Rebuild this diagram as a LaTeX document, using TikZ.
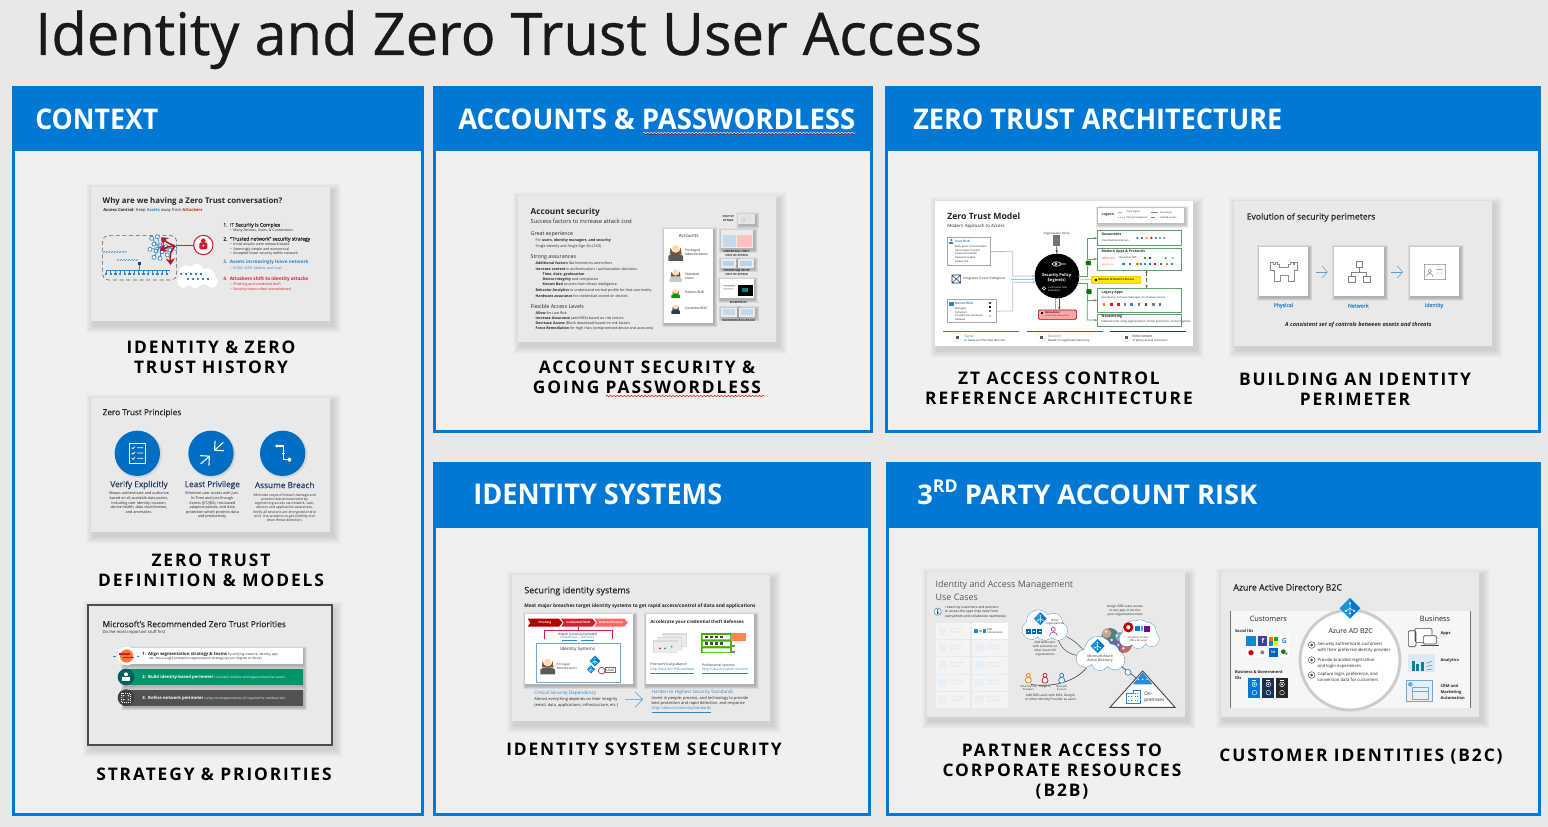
\documentclass[tikz,border=0pt]{standalone}
\usepackage{fontspec}
\usepackage{graphicx}
\setmainfont{Open Sans}
\newfontfamily\capf[LetterSpace=11]{Open Sans}
\newfontfamily\ttlf[FakeBold=.55]{Open Sans}
\newfontfamily\medf[FakeBold=.35]{Open Sans}
\usetikzlibrary{decorations.pathmorphing,arrows.meta,calc}
\definecolor{msblue}{HTML}{0078D4}
\definecolor{pagebg}{HTML}{E8E8E8}
\definecolor{panelbg}{HTML}{F0F0F0}
\definecolor{slidebg}{HTML}{E9E9E9}
\definecolor{ink}{HTML}{262626}
\definecolor{mid}{HTML}{595959}
\definecolor{lblue}{HTML}{2E86C9}
\definecolor{navyt}{HTML}{1F3D66}
\definecolor{redt}{HTML}{D02030}
\definecolor{grnb}{HTML}{5F9F6E}
\definecolor{lineb}{HTML}{9CC3E0}
\tikzset{
 txt/.style={inner sep=0pt,outer sep=0pt,anchor=west,align=left,text=ink},
 ctr/.style={anchor=center,align=center},
 zz/.style={x=.25pt,y=-.25pt},
 captxt/.style={inner sep=0pt,anchor=center,align=center,text=black,font=\fontsize{13}{15}\selectfont\capf\bfseries},
 headtxt/.style={inner sep=0pt,anchor=base west,text=white},
 squig/.style={red!80!black,line width=.35pt,decorate,decoration={snake,amplitude=.45pt,segment length=2.6pt}},
 gr/.style={draw=grnb,line width=.5pt,fill=white},
}
\newcounter{tn}
\def\lf{1.25}
\newcommand\T[4][]{\stepcounter{tn}\node[txt,font=\fontsize{#3}{\fpeval{#3*\lf}}\selectfont,#1] (t\arabic{tn}) at (#2) {#4};}
\newcommand\Shad[6]{\foreach \i in {8,...,1}{\fill[black,opacity=#6] ({#1-\i*#5+3*#5},{#2-\i*#5+4*#5}) rectangle ({#3+\i*#5+3*#5},{#4+\i*#5+4*#5});}}
\newcommand\Sld[5]{\Shad{#1}{#2}{#3}{#4}{1}{.016}\fill[#5] (#1,#2) rectangle (#3,#4);}
\newcommand\Card[5]{\Shad{#1}{#2}{#3}{#4}{1.2}{.03}\fill[#5] (#1,#2) rectangle (#3,#4);}
\newcommand\Panel[5]{\fill[panelbg] (#1,#2) rectangle (#3,#4);\fill[msblue] (#1,#2) rectangle (#3,#5);\draw[msblue,line width=2.6pt] (#1+1.7,#2+1.7) rectangle (#3-1.7,#4-1.7);}
\newcommand\Hd[4]{\stepcounter{tn}\node[headtxt] (h\arabic{tn}) at (#1,#2) {\resizebox{\fpeval{(#3-#1)*.75}pt}{#4}{\fontsize{20}{24}\selectfont\bfseries\capfree}};}
\newcommand\capfree{}
\newcommand\Sq[4]{\fill[#4] ({#1-#3/2},{#2-#3/2}) rectangle ({#1+#3/2},{#2+#3/2});}
\newcommand\Person[5]{%
 \fill[#5] ({#1-#3*.72},{#2-#3*.45}) arc (180:0:{#3*.72} and {#3*.75}) -- ({#1+#3*.85},{#2+#3*.45}) -- ({#1-#3*.85},{#2+#3*.45}) -- cycle;
 \fill[#4] ({#1-#3*1.05},{#2+#3*1.45}) -- ({#1-#3*1.05},{#2+#3*.75}) .. controls ({#1-#3*.8},{#2+#3*.3}) and ({#1+#3*.8},{#2+#3*.3}) .. ({#1+#3*1.05},{#2+#3*.75}) -- ({#1+#3*1.05},{#2+#3*1.45}) -- cycle;
 \fill[orange!30!white] (#1,{#2-#3*.3}) circle ({#3*.5});
}
\newcommand\AAD[3]{%
 \fill[msblue] (#1,{#2-#3}) -- ({#1+#3},#2) -- (#1,{#2+#3}) -- ({#1-#3},#2) -- cycle;
 \fill[cyan!60!msblue] (#1,{#2-#3}) -- ({#1-#3},#2) -- (#1,{#2+#3}) -- cycle;
 \draw[white,line width=.35pt] (#1,{#2-#3*.5}) -- (#1,{#2+#3*.5}) ({#1-#3*.4},{#2+#3*.25}) -- (#1,#2) -- ({#1+#3*.4},{#2+#3*.25});
 \fill[white] (#1,{#2-#3*.5}) circle ({#3*.1}) ({#1-#3*.4},{#2+#3*.25}) circle ({#3*.1}) ({#1+#3*.4},{#2+#3*.25}) circle ({#3*.1}) (#1,{#2+#3*.5}) circle ({#3*.1});
}
\begin{document}
\begin{tikzpicture}[x=.75pt,y=-.75pt]
\useasboundingbox (0,0) rectangle (1548,827);
\fill[pagebg] (0,0) rectangle (1548,827);
\node[inner sep=0pt,anchor=base west,text=black!90] (maintitle) at (35,55) {\resizebox{710pt}{33.5pt}{\ttlf Identity and Zero Trust User Access}};
% ---------- panels
\Panel{12}{86}{424}{816}{151}
\Panel{433}{86}{873}{433}{151}
\Panel{885}{86}{1541}{433}{151}
\Panel{433}{462}{871}{816}{528}
\Panel{886}{462}{1541}{816}{528}
\renewcommand\capfree{CONTEXT}\Hd{35}{130}{158}{15.5pt}
\renewcommand\capfree{ACCOUNTS \& PASSWORDLESS}\Hd{458}{130}{855}{15.5pt}
\renewcommand\capfree{ZERO TRUST ARCHITECTURE}\Hd{913}{130}{1282}{15.5pt}
\renewcommand\capfree{IDENTITY SYSTEMS}\Hd{473}{504}{722}{15.5pt}
\renewcommand\capfree{3\raisebox{.42em}{\fontsize{13}{15}\selectfont RD} PARTY ACCOUNT RISK}\Hd{917}{504}{1257}{18pt}
\draw[white,line width=.35pt,decorate,decoration={snake,amplitude=.45pt,segment length=2.6pt}] (643,133) -- (855,133);
\draw[squig] (643,134) -- (855,134);
% ---------- captions
\node[captxt] (c1) at (211,357) {IDENTITY \& ZERO\\TRUST HISTORY};
\node[captxt] (c2) at (211,570) {ZERO TRUST\\DEFINITION \& MODELS};
\node[captxt] (c3) at (214,774) {STRATEGY \& PRIORITIES};
\node[captxt] (c4) at (647,377) {ACCOUNT SECURITY \&\\GOING PASSWORDLESS};
\node[captxt] (c5) at (1059,388) {ZT ACCESS CONTROL\\REFERENCE ARCHITECTURE};
\node[captxt] (c6) at (1355,389) {BUILDING AN IDENTITY\\PERIMETER};
\node[captxt] (c7) at (644,749) {IDENTITY SYSTEM SECURITY};
\node[captxt] (c8) at (1062,772) {PARTNER ACCESS TO\\CORPORATE RESOURCES\\(B2B)};
\node[captxt] (c9) at (1361,757) {CUSTOMER IDENTITIES (B2C)};
\draw[squig] (606,396) -- (765,396);
% ========== slide 1
\Sld{91}{187}{330}{321}{slidebg}
\begin{scope}[shift={(80,180)},zz]
\T{68,65}{5.9}{\bfseries Why are we having a Zero Trust conversation?}
\T{70,92}{3.1}{\bfseries Access Control: \mdseries Keep \textcolor{lblue}{\bfseries Assets} away from \textcolor{redt}{\bfseries Attackers}}
\T{430,136}{3.7}{\medf 1.~~IT Security is Complex}
\T{451,152}{2.65}{•~~Many Devices, Users, \& Connections}
\T{430,178}{3.7}{\medf 2.~~“Trusted network” security strategy}
\T{451,193}{2.65}{•~~Initial attacks were network based}
\T{451,208}{2.65}{•~~Seemingly simple and economical}
\T{451,222}{2.65}{•~~Accepted lower security within network}
\T[text=lblue]{430,248}{3.5}{\bfseries 3.~~Assets increasingly leave network}
\T[text=lblue]{451,264}{2.65}{•~~BYOD, WFH, Mobile, and SaaS}
\T[text=redt]{430,299}{3.5}{\bfseries 4.~~Attackers shift to identity attacks}
\T[text=redt]{451,315}{2.65}{•~~Phishing and credential theft}
\T[text=redt]{451,329}{2.65}{•~~Security teams often overwhelmed}
\draw[mid,densely dashed,line width=.4pt,rounded corners=4pt] (68,167) rectangle (290,300);
\draw[lblue,line width=.4pt] (78,270) -- (270,270) (178,253) -- (178,270);
\foreach \x in {78,92,...,270}{\draw[lblue,line width=.4pt] (\x,270) -- (\x,282);\Sq{\x}{282}{7}{lblue}}
\Sq{178}{251}{7}{navyt}
\foreach \x in {70,78,...,134}{\draw[lblue,line width=.5pt] (\x,218) -- (\x+5,214);}
\foreach \x in {112,120,...,168}{\draw[lblue,line width=.5pt] (\x,242) -- (\x+5,238);}
\foreach \x/\y in {215/175,232/170,250/180,222/192,240/198,258/200,210/208,228/213,246/215,270/210,222/232,240/235,262/225,285/205}{\draw[lblue,line width=.4pt] (\x,\y) -- (240,200);\draw[lblue,fill=white,line width=.5pt] (\x,\y) circle (6);}
\draw[redt!85!black,line width=1.2pt,-{Stealth[length=5pt,width=7pt]}] (285,198) .. controls (265,190) .. (243,172);
\draw[redt!85!black,line width=1.2pt,-{Stealth[length=5pt,width=7pt]}] (285,198) .. controls (262,200) .. (240,212);
\draw[redt!85!black,line width=1.2pt,-{Stealth[length=5pt,width=7pt]}] (285,198) .. controls (270,220) .. (272,255);
\draw[redt,line width=.7pt] (290,195) -- (340,195);
\draw[redt,fill=white,line width=.8pt] (370,195) circle (29);
\fill[redt] (370,182) circle (7); \fill[redt,rounded corners=1pt] (358,187) rectangle (382,208);
\fill[white] (370,197) circle (3);
\fill[white] (320,280) circle (24) (350,272) circle (20) (380,290) circle (25) (310,305) circle (18) (345,300) circle (24) (395,305) circle (18);
\foreach \x in {302,317,...,362}{\Sq{\x}{281}{6}{lblue}}
\foreach \x in {325,340,...,385}{\Sq{\x}{298}{6}{lblue}}
\end{scope}
% ========== slide 2
\Sld{91}{398}{330}{532}{slidebg}
\begin{scope}[shift={(80,395)},zz]
\T{68,54}{6.2}{\medf Zero Trust Principles}
\foreach \x in {172,393,608}{\fill[black,opacity=.08] (\x+3,178) circle (71);\fill[msblue!92!black] (\x,175) circle (68);}
\draw[white,line width=.7pt] (148,144) rectangle (196,206);
\foreach \y in {158,174,190}{\draw[white,line width=.6pt] (155,\y) -- (159,\y+3) -- (165,\y-3) (171,\y) -- (190,\y);}
\draw[white,line width=.8pt,-{Straight Barb[length=5pt]}] (430,142) -- (402,167);
\draw[white,line width=.8pt,-{Straight Barb[length=5pt]}] (362,207) -- (390,182);
\draw[white,line width=.8pt] (590,153) -- (610,153) -- (610,175) (605,175) -- (615,175) (610,175) -- (610,194) -- (628,194);
\fill[white] (590,153) circle (5) (628,194) circle (6);
\T[ctr,text=navyt]{177,270}{6.2}{\medf Verify Explicitly}
\T[ctr,text=navyt]{397,270}{6.2}{\medf Least Privilege}
\T[ctr,text=navyt]{614,270}{6.2}{\medf Assume Breach}
\def\lf{1.22}
\T[ctr]{177,323}{2.8}{Always authenticate and authorize\\based on all available data points,\\including user identity, location,\\device health, data classification,\\and anomalies.}
\T[ctr]{397,331}{2.8}{Minimize user access with Just-\\In-Time and Just-Enough\\Access (JIT/JEA), risk-based\\adaptive polices, and data\\protection which protects data\\and productivity.}
\T[ctr]{614,338}{2.6}{Minimize scope of breach damage and\\prevent lateral movement by\\segmenting access via network, user,\\devices and application awareness.\\Verify all sessions are encrypted end to\\end. Use analytics to get visibility and\\drive threat detection.}
\def\lf{1.25}
\end{scope}
% ========== slide 3
\Sld{88}{605}{332}{745}{slidebg}
\draw[mid!85!black,line width=1.5pt] (88,605) rectangle (332,745);
\begin{scope}[shift={(80,600)},zz]
\T{68,72}{6.3}{\medf Microsoft’s Recommended Zero Trust Priorities}
\T{68,98}{3.1}{Do the most important stuff first}
\Card{130}{144}{668}{192}{white}
\Card{130}{207}{668}{255}{teal!85!green}
\Card{130}{270}{668}{317}{black!68}
\fill[white] (140,168) circle (28);
\fill[orange!70!red!80!white] (140,168) circle (20);
\draw[redt,line width=.8pt] (118,162) -- (150,162) (130,173) -- (162,173);
\draw[lblue,line width=.6pt] (100,168) -- (108,168) (170,170) -- (178,170);
\fill[teal!75!black] (138,231) circle (25);
\fill[white] (138,223) circle (6); \fill[white] (126,242) rectangle (150,232);
\fill[black!75] (138,293) circle (25);
\draw[white,densely dotted,line width=.4pt] (125,280) rectangle (150,306);
\fill[white] (131,287) circle (2.5) (145,287) circle (2.5) (131,299) circle (2.5) (145,299) circle (2.5);
\T{187,162}{3.2}{\textbf{1.~~Align segmentation strategy \& teams} \fontsize{2.4}{3}\selectfont by unifying network, identity, app,}
\T{207,177}{2.4}{etc. into a single enterprise segmentation strategy (as you migrate to Azure)}
\T[text=white]{187,232}{3.2}{\textbf{2.~~Build identity-based perimeter} \fontsize{2.4}{3}\selectfont to protect modern and legacy enterprise assets}
\T[text=white]{187,295}{3.2}{\textbf{3.~~Refine network perimeter} \fontsize{2.4}{3}\selectfont using microsegmentation (if required for residual risk)}
\end{scope}
% ========== slide 4
\Sld{518}{196}{776}{342}{slidebg}
\begin{scope}[shift={(510,190)},zz]
\T{62,67}{6.2}{\bfseries Account security}
\T{62,95}{4.3}{Success factors to increase attack cost}
\T{62,134}{4}{Great experience}
\T{77,153}{2.7}{For \textbf{users, identity managers, and security}}
\T{77,171}{2.7}{Single Identity and Single Sign On (SSO)}
\T{62,201}{4}{Strong assurances}
\T{77,220}{2.7}{\textbf{Additional factors} like biometrics and others}
\T{77,237}{2.7}{\textbf{Increase context} in authentication / authorization decisions}
\T{98,254}{2.7}{\textbf{Time, date, geolocation}}
\T{98,269}{2.7}{\textbf{Device integrity} and compliance}
\T{98,285}{2.7}{\textbf{Known Bad} sources from threat intelligence}
\T{77,301}{2.7}{\textbf{Behavior Analytics} to understand normal profile for that user/entity}
\T{77,317}{2.7}{\textbf{Hardware assurance} for credentials stored on devices}
\T{62,349}{4}{Flexible Access Levels}
\T{77,368}{2.7}{\textbf{Allow} for Low Risk}
\T{77,384}{2.7}{\textbf{Increase Assurance} (add MFA) based on risk factors}
\T{77,400}{2.7}{\textbf{Decrease Access} (Block download) based on risk factors}
\T{77,417}{2.7}{\textbf{Force Remediation} for high risks (compromised device and accounts)}
\Card{462}{117}{609}{398}{white}
\T[ctr]{536,139}{3.5}{Accounts}
\Person{497}{182}{21}{black!65}{brown!70!black}
\Person{497}{252}{17}{black!22}{brown!60!black}
\Person{497}{307}{12}{green!60!black}{brown!70!orange}
\Person{497}{354}{12}{navyt}{brown!70!black}
\T{525,186}{2.5}{Privileged\\Administrators}
\T{525,259}{2.5}{Standard\\Users}
\T{525,308}{2.5}{Partner/B2B}
\T{525,356}{2.5}{Customer/B2C}
\def\lf{1.35}
\T[ctr]{655,85}{2.1}{\bfseries COST OF\\\bfseries ATTACK}
\Card{685}{72}{735}{102}{white!90!black}
\Sq{700}{88}{14}{black!15}\Sq{720}{84}{14}{black!12}
\Card{632}{120}{730}{175}{white!92!black}
\fill[lblue!30] (640,135) rectangle (678,170); \fill[red!25] (682,135) rectangle (725,170);
\T[ctr]{680,190}{2.1}{\bfseries CREDENTIAL THEFT\\\bfseries COST OF ATTACK}
\Card{632}{207}{678}{233}{white!92!black}\fill[lblue!35] (638,212) rectangle (672,228);
\Card{685}{207}{731}{233}{white!92!black}\fill[lblue!35] (691,212) rectangle (725,228);
\T[ctr]{680,247}{2.1}{\bfseries CREDENTIAL REUSE\\\bfseries COST OF ATTACK}
\Card{630}{267}{731}{325}{white}
\fill[black] (684,285) rectangle (728,318); \fill[teal] (695,295) rectangle (715,305);
\fill[black!30] (640,285) rectangle (676,289) (640,295) rectangle (670,298);
\T[ctr]{685,336}{2.1}{\bfseries BIOMETRICS}
\Card{632}{353}{680}{380}{white!92!black}\fill[lblue!30] (638,358) rectangle (674,375);
\Card{687}{353}{735}{380}{white!92!black}\fill[lblue!30] (693,358) rectangle (729,375);
\T[ctr]{686,392}{2.1}{\bfseries HARDWARE ASSURANCE}
\def\lf{1.25}
\end{scope}
% ========== slide 5
\Sld{935}{201}{1193}{346}{white}
\begin{scope}[shift={(930,195)},zz]
\T{52,65}{6.5}{\bfseries Zero Trust Model}
\T{52,95}{3.3}{Modern Approach to Access}
\Card{503}{37}{763}{85}{white}
\draw[black!25,line width=.4pt] (503,37) rectangle (763,85);
\T{515,58}{2.5}{\bfseries Legend}
\draw[black!30,densely dashed,line width=.35pt] (565,52) -- (585,52); \draw[black!35!yellow,line width=.35pt,densely dotted] (565,68) -- (585,68);
\draw[grnb,line width=.7pt] (664,52) -- (684,52); \draw[black!50,densely dashed,line width=.35pt] (664,68) -- (684,68);
\T{590,52}{1.8}{Trust Signal}\T{590,68}{1.8}{Threat Intelligence}\T{690,52}{1.8}{Full Access}\T{690,68}{1.8}{Limited Access}
% boxes
\node[draw=black!35,line width=.5pt,fill=white,minimum width=32.5pt,minimum height=21.2pt,inner sep=0pt] (ur) at (117,169.5) {};
\node[draw=black!35,line width=.5pt,fill=white,minimum width=37pt,minimum height=17.2pt,inner sep=0pt] (dr) at (126,348.5) {};
\node[inner sep=0pt,minimum width=4pt,minimum height=4pt] (ti) at (235,252) {};
\node[circle,fill=black,minimum size=33.5pt,inner sep=0pt] (eng) at (381,243) {};
\node[gr,minimum width=63pt,minimum height=11.2pt,inner sep=0pt] (docs) at (629,129.5) {};
\node[gr,minimum width=63pt,minimum height=16.5pt,inner sep=0pt] (modern) at (629,192) {};
\node[gr,minimum width=63pt,minimum height=18pt,inner sep=0pt] (legacy) at (629,316) {};
\node[gr,minimum width=63pt,minimum height=8.8pt,inner sep=0pt] (netw) at (629,375.5) {};
\node[fill=yellow!90!orange,draw=yellow!70!orange,line width=.5pt,minimum width=36.7pt,minimum height=5.2pt,inner sep=0pt] (mon) at (558.5,253.5) {};
\node[fill=red!35,draw=red!70!black,line width=.5pt,rounded corners=1pt,minimum width=28.7pt,minimum height=7pt,inner sep=0pt] (rem) at (382.5,359) {};
\node[inner sep=0pt,minimum width=5pt,minimum height=8pt,fill=black!55] (pol) at (380,137) {};
% connectors
\draw[lineb,line width=.55pt,-{Stealth[length=2.5pt]}] (ur.east) -- (248,170) -- (248,243) -- (315,243);
\draw[lineb,line width=.55pt,-{Stealth[length=2.5pt]}] (ti) -- (315,252);
\draw[lineb,line width=.55pt,-{Stealth[length=2.5pt]}] (dr.east) -- (248,348) -- (248,262) -- (318,262);
\draw[black!75,line width=.5pt,-{Stealth[length=2.5pt]}] (pol) -- (eng);
\draw[redt,line width=.5pt,-{Stealth[length=2.5pt]}] (388,310) -- (388,345);
\draw[lineb!70!lblue,line width=.5pt] (377,310) -- (377,345);
\draw[grnb,line width=.55pt,-{Stealth[length=2.5pt]}] (445,243) -- (472,243) -- (472,129.5) -- (docs.west);
\draw[grnb,line width=.55pt,-{Stealth[length=2.5pt]}] (472,192) -- (modern.west);
\draw[grnb,line width=.55pt,-{Stealth[length=2.5pt]}] (445,264) -- (472,264) -- (472,316) -- (legacy.west);
\draw[grnb,line width=.55pt,-{Stealth[length=2.5pt]}] (472,316) -- (472,375) -- (netw.west);
\draw[yellow!60!brown,line width=.5pt] (448,253) -- (mon.west);
\draw[brown!70!black,densely dashed,line width=.45pt,{Stealth[length=2.2pt]}-{Stealth[length=2.2pt]}] (650,225) -- (650,280);
\node[fill=green!45!black,draw=white,line width=.3pt,minimum width=4.2pt,minimum height=4pt,inner sep=0pt,rounded corners=.5pt] (g1) at (475,204) {};
\node[fill=green!45!black,draw=white,line width=.3pt,minimum width=4.2pt,minimum height=4pt,inner sep=0pt,rounded corners=.5pt] (g2) at (477,290) {};
% texts
\fill[lblue] (64,135) circle (4); \fill[lblue] (58,148) rectangle (70,142);
\T[text=lblue]{75,140}{2.4}{\bfseries User Risk}
\def\lf{1.42}
\T{75,177}{1.9}{Multi-factor Authentication\\Geo-location Trusted\\Password-enabled\\Password Leaked\\Leaked risk}
\def\lf{1.25}
\draw[navyt,line width=.4pt] (66,240) -- (92,240) -- (92,264) -- (66,264) -- cycle (66,240) -- (92,264) (92,240) -- (66,264);
\T{100,252}{2.3}{Integrated Threat Intelligence}
\fill[lblue] (58,320) rectangle (72,332);
\T[text=lblue]{75,326}{2.4}{\bfseries Device Risk}
\def\lf{1.45}
\T{75,358}{1.9}{Managed\\Compliant\\Installed and Hardened\\Updated}
\def\lf{1.25}
\Sq{180}{323}{6}{green!50!black}\Sq{180}{336}{6}{black}\Sq{180}{349}{6}{lblue}\Sq{180}{362}{6}{lblue!40}
\T{515,119}{2.6}{\bfseries Documents}
\T{515,136}{1.9}{Classified Items/Access}
\foreach \x/\c in {622/lblue,636/navyt,650/orange,664/red,678/teal,690/lblue,702/black!50}{\fill[\c] (\x,129) circle (3.5);}
\T{515,171}{2.6}{\bfseries Modern Apps \& Protocols}
\T[text=redt]{516,190}{2}{Office 365}
\T{568,190}{2}{Dynamics 365}
\foreach \x/\c in {645/green!50!black,660/black,707/lblue,728/lblue!70}{\fill[\c] (\x,189) circle (3.5);}
\foreach \x/\c in {580/lblue,600/black!60,622/orange,632/lblue,645/lblue,660/teal,675/red,692/teal,710/orange,725/lblue}{\Sq{\x}{208}{7}{\c}}
\T[text=orange!90!red]{516,208}{1.8}{salesforce}
\T{515,294}{2.6}{\bfseries Legacy Apps}
\T{515,309}{1.9}{Remote Env. \& Private Web Apps, On-Premises Access}
\foreach \x/\c in {522/orange,545/redt,565/redt,585/black!50,605/lblue,627/black!50,648/black!70,670/black!50,690/lblue}{\Sq{\x}{329}{8}{\c}}
\T{515,366}{2.6}{\bfseries Networking}
\T{515,381}{2.1}{Network Intel using segmentation, threat protection, and encryption}
\T{505,254}{2.1}{\bfseries Monitor \& Restrict Access}
\Sq{497}{254}{7}{black}
\T[ctr,text=white]{380,248}{3}{\bfseries Security Policy\\\bfseries Engine(s)}
\def\lf{1.5}
\T[text=white]{354,282}{1.9}{Continuous Risk\\Evaluation}
\def\lf{1.25}
\draw[white,line width=.35pt] (342,280) circle (5);
\draw[white,line width=.45pt] (366,207) .. controls (372,198) and (388,198) .. (394,207) .. controls (388,216) and (372,216) .. (366,207) -- cycle (378,207) circle (3) (394,207) -- (408,207);
\T[ctr]{380,116}{2.2}{Organization Policy}
\T{345,353}{2}{\bfseries Remediate}
\T{345,363}{1.6}{Limit risk \& restore trust}
\Sq{337}{353}{6}{black}
\draw[lblue,line width=.6pt] (40,409) -- (268,409);
\draw[lblue!80!black,line width=.6pt] (290,409) -- (520,409);
\draw[navyt,line width=.6pt] (540,409) -- (768,409);
\foreach \x in {82,333,588}{\fill[black!8] (\x,428) circle (14);\fill[white] (\x,428) circle (12);\Sq{\x}{428}{9}{black!65}}
\T[text=lblue]{103,424}{2.5}{Signal}\T{103,437}{2.2}{to make an informed decision}
\T[text=lblue]{354,424}{2.5}{Decision}\T{354,437}{2.2}{Based on organizational policy}
\T{607,424}{2.5}{Enforcement}\T{607,437}{2.2}{of policy across resources}
\end{scope}
% ========== slide 6
\Sld{1234}{201}{1492}{346}{slidebg}
\begin{scope}[shift={(1225,195)},zz]
\T{65,67}{6.5}{\medf Evolution of security perimeters}
\Card{102}{155}{249}{303}{white}
\Card{327}{155}{477}{303}{white}
\Card{555}{155}{703}{303}{white}
\draw[black!45,line width=.35pt] (136,202) -- (145,202) -- (145,207) -- (150,207) -- (150,202) -- (158,202) -- (158,207) -- (164,207) -- (164,218) -- (190,218) -- (190,207) -- (196,207) -- (196,202) -- (204,202) -- (204,207) -- (209,207) -- (209,202) -- (218,202) -- (218,225) -- (207,225) -- (207,260) -- (190,260) -- (190,240) -- (167,240) -- (167,260) -- (147,260) -- (147,225) -- (136,225) -- cycle;
\node[draw=black!50,line width=.35pt,minimum size=4.6pt,inner sep=0pt] (n1) at (402,208) {};
\node[draw=black!50,line width=.35pt,minimum size=4.6pt,inner sep=0pt] (n2) at (380,253) {};
\node[draw=black!50,line width=.35pt,minimum size=4.6pt,inner sep=0pt] (n3) at (425,253) {};
\draw[black!50,line width=.35pt] (n1) -- (402,231) (n2) -- (380,231) -- (425,231) -- (n3);
\draw[black!50,line width=.35pt] (598,208) rectangle (662,254) (604,245) .. controls (606,232) and (622,232) .. (624,245) (614,228) circle (5.5) (632,224) -- (654,224) (632,234) -- (654,234);
\draw[lblue!80,line width=.4pt,-{Straight Barb[length=4pt,width=9pt]}] (272,231) -- (308,231);
\draw[lblue!80,line width=.4pt,-{Straight Barb[length=4pt,width=9pt]}] (498,231) -- (534,231);
\T[ctr,text=lblue]{175,332}{3.9}{\medf Physical}
\T[ctr,text=lblue]{400,332}{3.9}{\medf Network}
\T[ctr,text=lblue]{627,332}{3.9}{\medf Identity}
\T[ctr]{400,390}{4.2}{\itshape\bfseries A consistent set of controls between assets and threats}
\end{scope}
% ========== slide 7
\Sld{512}{575}{770}{721}{slidebg}
\begin{scope}[shift={(505,570)},zz]
\T{58,63}{6.7}{\medf Securing identity systems}
\T{58,110}{3.6}{\bfseries Most major breaches target identity systems to get rapid access/control of data and applications}
\Card{60}{132}{385}{343}{white}
\Card{422}{132}{748}{343}{white}
\fill[red!70!black] (68,146) -- (162,146) -- (172,158) -- (162,170) -- (68,170) -- (76,158) -- cycle;
\fill[redt] (168,146) -- (262,146) -- (272,158) -- (262,170) -- (168,170) -- (176,158) -- cycle;
\fill[red!60!white] (268,146) -- (358,146) -- (368,158) -- (358,170) -- (268,170) -- (276,158) -- cycle;
\T[ctr,text=white]{120,158}{2.2}{\bfseries Phishing}
\T[ctr,text=white]{220,158}{2.2}{\bfseries Credential Theft}
\T[ctr,text=white]{318,158}{2.2}{\bfseries Data Exfiltration}
\draw[redt,line width=.8pt] (118,207) -- (118,182) -- (322,182) -- (322,207) (220,170) -- (220,182);
\T[ctr,fill=white,inner sep=1pt]{218,192}{2.5}{Attack is now automated}
\T[ctr,text=lblue]{218,206}{2.5}{(\underline{DeathStar} | \underline{GoFetch})}
\draw[lblue!70,line width=.6pt] (95,220) rectangle (347,338);
\T[ctr]{218,238}{3.4}{Identity Systems}
\Person{128}{283}{21}{black!65}{brown!70!black}
\T{155,290}{2.2}{Privileged\\Administrators}
\AAD{270}{273}{16}\AAD{258}{298}{12}
\draw[redt,line width=.5pt,fill=white] (290,302) circle (10);
\draw[black!55,line width=.4pt] (300,293) rectangle (332,308);
\T[ctr]{316,300}{2.4}{LDAP}
\T{436,158}{3.4}{\bfseries Accelerate your credential theft defenses}
\foreach \a/\b in {470/190,455/200,445/210}{\fill[black!15] (\a,\b) rectangle ++(75,40);\fill[white!92!black] (\a+2,\b+5) rectangle ++(71,33);}
\fill[lblue] (480,235) circle (3) (500,230) circle (3);\fill[redt] (465,235) circle (3);
\fill[green!60!yellow!70!black] (587,190) rectangle (680,250);
\fill[white] (593,195) rectangle (675,208) (593,215) rectangle (675,228) (593,235) rectangle (675,246);
\fill[orange!65!red!70!white] (678,190) rectangle (722,214);
\foreach \x in {605,620,635,650}{\Sq{\x}{201}{8}{black!75}\Sq{\x}{221}{8}{black!70}}
\Sq{685}{228}{8}{black!50}\Sq{685}{246}{8}{black!50}
\T{436,285}{2.5}{Free technical guidance}
\T[text=lblue]{436,304}{2.6}{\underline{http://aka.ms/SPAroadmap}}
\T{592,285}{2.5}{Professional services}
\T[text=lblue]{592,304}{2.6}{\underline{http://aka.ms/cyber-services}}
\T[text=lblue]{88,369}{3.5}{Critical Security Dependency}
\T{88,388}{3}{Almost everything depends on their integrity}
\T{88,407}{3}{(email, data, applications, infrastructure, etc.)}
\draw[lblue!85,line width=.4pt] (360,388) -- (412,388) (390,365) -- (413,388) -- (390,412);
\T[text=lblue]{440,367}{3.5}{Harden to Highest Security Standards}
\T{440,384}{3}{Invest in people, process, and technology to provide}
\T{440,401}{3}{best protection and rapid detection, and response}
\T[text=lblue]{440,419}{3}{\underline{http://aka.ms/securitystandards}}
\end{scope}
% ========== slide 8
\Sld{927}{572}{1185}{717}{slidebg}
\begin{scope}[shift={(920,565)},zz]
\T[text=mid]{47,60}{6.7}{Identity and Access Management}
\T[text=mid]{47,96}{6.7}{Use Cases}
\draw[lblue,line width=.4pt,fill=white] (53,140) circle (11);\fill[navyt] (53,135) circle (2.5) (51,139) rectangle (55,147);
\def\lf{1.35}
\T{75,141}{2.5}{I need my customers and partners\\to access the apps they need from\\everywhere and collaborate seamlessly.}
\def\lf{1.25}
\foreach \y/\z in {175/221,224/272,277/328,330/378,380/428}{\fill[white!50!slidebg] (48,\y) rectangle (150,\z);\fill[white!50!slidebg] (155,\y) rectangle (263,\z);
 \fill[lblue!12] (55,\y+12) rectangle (80,\y+34) (165,\y+12) rectangle (190,\y+34);
 \fill[black!8] (90,\y+14) rectangle (130,\y+18) (90,\y+24) rectangle (125,\y+28) (200,\y+14) rectangle (245,\y+18) (200,\y+24) rectangle (240,\y+28);}
\fill[white] (155,175) rectangle (263,221);
\Sq{168}{198}{10}{lblue}\Sq{182}{198}{8}{lblue!50}\Sq{193}{198}{10}{lblue}
\T{202,198}{1.9}{B2B\\collaboration}
% clouds
\foreach \x/\y/\r in {355/170/35,400/172/27,335/195/28,415/198/27,375/200/25}{\draw[lblue,line width=.5pt] (\x,\y) circle (\r);}
\foreach \x/\y/\r in {355/170/35,400/172/27,335/195/28,415/198/27,375/200/25}{\fill[white] (\x,\y) circle (\r);}
\AAD{361}{161}{19}
\T[ctr]{405,172}{2.1}{Other\\organizations}
\foreach \x in {325,342,359}{\Sq{\x}{199}{14}{msblue!85!black}\Sq{\x}{199}{5}{white}}
\draw[violet!70,line width=.5pt] (400,193) circle (6) (388,212) .. controls (390,198) and (410,198) .. (412,212);
\def\lf{1.27}
\T[ctr]{375,252}{2.3}{Add B2B users\\with accounts on\\other Azure AD\\organizations}
\T[ctr]{615,137}{2.4}{Assign B2B users access\\to any app or service\\your organization owns}
\def\lf{1.25}
\node[inner sep=0pt,minimum size=1pt] (upeople) at (330,358) {};
% photos
\foreach \x/\y/\r/\c in {570/215/26/teal!60!black!70,610/238/26/red!60!black!60,585/245/18/blue!50!black!60,560/205/14/orange!60!black!50,600/215/14/cyan!50!black!60}{\fill[\c] (\x,\y) circle (\r);}
\foreach \x/\y in {558/200,575/225,595/240,610/250,590/212,620/225,565/232}{\fill[white!85!cyan] (\x,\y) circle (4);}
\foreach \x/\y/\r in {640/200/32,680/200/28,660/195/30,620/222/22,695/222/22,655/228/22}{\draw[lblue,line width=.5pt] (\x,\y) circle (\r);}
\foreach \x/\y/\r in {640/200/32,680/200/28,660/195/30,620/222/22,695/222/22,655/228/22}{\fill[white] (\x,\y) circle (\r);}
\draw[red!75!black,line width=2pt] (625,187) circle (11);
\fill[msblue] (646,182) rectangle (660,198);\fill[violet] (672,184) rectangle (690,200);\fill[msblue!70] (662,183) rectangle (670,198);
\def\lf{1.2}
\T[ctr]{655,222}{1.8}{(Snapshot of other\\Office 365 apps)}
\def\lf{1.25}
% connectors
\draw[black!60,line width=.5pt] (440,215) .. controls (460,225) and (478,240) .. (490,255);
\draw[black!60,line width=.5pt] (415,225) .. controls (425,255) and (450,268) .. (475,272);
\draw[black!70,line width=.5pt] (upeople) .. controls (400,368) and (465,350) .. (500,308);
% main cloud
\foreach \x/\y/\r in {535/255/40,495/280/26,585/285/29,540/290/26,515/265/25,570/265/28}{\draw[lblue,line width=.55pt] (\x,\y) circle (\r);}
\foreach \x/\y/\r in {535/255/40,495/280/26,585/285/29,540/290/26,515/265/25,570/265/28}{\fill[white] (\x,\y) circle (\r);}
\AAD{533}{243}{21}
\T[ctr]{540,280}{2.6}{Microsoft Azure\\Active Directory}
% people
\foreach \x/\c in {325/orange,375/redt,425/lblue}{\draw[\c,line width=.6pt,fill=white] (\x,331) circle (6) (\x,346) circle (9);\fill[\c!40] (\x,354) circle (4);}
\def\lf{1.2}
\T[ctr]{325,370}{1.9}{Other Identity\\Providers}
\T[ctr]{375,365}{1.9}{Google ID}
\T[ctr]{425,370}{1.9}{Microsoft\\Account}
\def\lf{1.3}
\T[ctr]{392,397}{2.4}{Add B2B users with MSA, Google,\\or other Identity Provider as users}
\def\lf{1.25}
% triangle
\draw[black!70,line width=.5pt] (605,305) -- (650,340);
\draw[lblue,line width=.5pt,fill=white] (624,322) circle (9);
\draw[black!70,line width=.7pt,fill=white] (570,427) -- (765,427) -- (668,318) -- cycle;
\fill[msblue!85] (668,322) -- (698,358) -- (638,358) -- cycle;
\foreach \a in {655,668,681}{\fill[white] (\a,343) circle (2.5);}
\draw[lblue,line width=.4pt] (618,414) -- (618,385) -- (640,385) -- (640,375) -- (660,375) -- (660,414) -- cycle;
\foreach \y in {385,395,405}{\foreach \x in {646,653}{\Sq{\x}{\y}{3}{lblue}}\Sq{626}{\y}{3}{lblue}\Sq{633}{\y}{3}{lblue}}
\T{673,386}{3.5}{On-}
\T{673,405}{3.5}{premises}
\end{scope}
% ========== slide 9
\Sld{1221}{572}{1479}{717}{slidebg}
\begin{scope}[shift={(1215,565)},zz]
\T{55,70}{6.6}{\medf Azure Active Directory B2C}
\fill[white!60!slidebg] (45,138) rectangle (765,428);
\draw[black!55,line width=.6pt] (45,138) -- (45,428) (765,138) -- (765,428);
\draw[black!20,line width=2.2pt,fill=white] (405,285) circle (150);
\AAD{405}{130}{31}
\T[ctr]{407,198}{5.2}{Azure AD B2C}
\def\lf{1.38}
\T{308,247}{3.2}{Securely authenticate customers\\with their preferred identity provider}
\T{308,294}{3.2}{Provide branded registration\\and login experiences}
\T{308,336}{3.2}{Capture login, preference, and\\conversion data for customers}
\def\lf{1.25}
\foreach \y in {240,285,330}{\draw[black!70,line width=.35pt,fill=white] (290,\y) circle (10);\fill[black!70] (290,\y) circle (4.5);}
\T[ctr]{160,162}{5.5}{Customers}
\T[ctr]{660,163}{5.5}{Business}
\T{60,199}{2.9}{\bfseries Social IDs}
\Sq{108}{228}{28}{cyan!70!blue}\Sq{142}{228}{28}{blue!50!black!75}\T[ctr,text=white]{144,228}{5}{\bfseries f}
\Sq{175}{228}{28}{white}\Sq{168}{221}{13}{orange!90!red}\Sq{182}{221}{13}{green!70!black}\Sq{168}{235}{13}{cyan!70!blue}\Sq{182}{235}{13}{yellow!90!orange}
\Sq{208}{228}{28}{white}\T[ctr,text=lblue]{208,228}{5.2}{\bfseries G}
\Sq{108}{262}{26}{white}\fill[red!80!black] (108,263) circle (8);
\Sq{142}{262}{26}{white}\fill[black!50] (142,262) circle (6);
\Sq{175}{262}{28}{msblue!85!black}\T[ctr,text=white]{175,262}{3}{\bfseries in}
\Sq{208}{262}{26}{white}\fill[green!50!black] (205,260) circle (7);\fill[black!40] (214,266) circle (5);
\def\lf{1.33}
\T{60,330}{3}{\bfseries Business \& Government\\\bfseries IDs}
\def\lf{1.25}
\foreach \a/\c in {100/msblue,142/navyt!80!black,183/black!85}{\fill[\c] (\a,338) rectangle ++(36,62);\draw[white,line width=.35pt] (\a+18,358) circle (7);\fill[white] (\a+18,358) circle (3);\fill[white] (\a+12,345) rectangle ++(12,1.5);\draw[white,line width=.3pt] (\a+18,383) circle (7);}
\draw[black!70,line width=.5pt,rounded corners=1pt,fill=white] (580,197) rectangle (603,245) (600,190) rectangle (651,232);
\draw[black!70,line width=.5pt,fill=white,rounded corners=1pt] (625,212) rectangle (665,237);
\draw[black!70,line width=.6pt] (618,242) -- (672,242);
\T{677,205}{3}{\bfseries Apps}
\fill[lblue!18] (580,268) rectangle (660,322);
\foreach \x/\h in {592/30,604/22,618/28}{\fill[teal!70!lblue] (\x,318-\h) rectangle ++(8,\h);}
\draw[black!60,line width=.3pt] (634,295) -- (652,288) (634,305) -- (652,300) (634,315) -- (652,312);
\T{677,285}{3}{\bfseries Analytics}
\fill[lblue!12] (575,347) rectangle (652,410);
\draw[lblue!70,line width=.35pt] (575,347) rectangle (652,410) (592,368) rectangle (640,402) (592,380) -- (640,380);
\fill[lblue!70] (586,358) circle (7);
\def\lf{1.4}
\T{677,381}{3}{\bfseries CRM and\\\bfseries Marketing\\\bfseries Automation}
\def\lf{1.25}
\end{scope}
\end{tikzpicture}
\end{document}
